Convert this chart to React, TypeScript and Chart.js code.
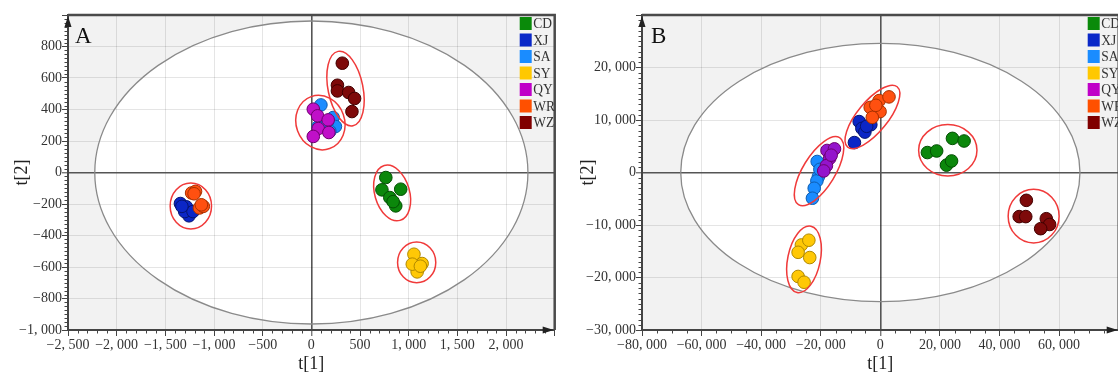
import React, { useEffect, useRef } from 'react';
import { Chart, registerables } from 'chart.js';

Chart.register(...registerables);

type Pt = [number, number];
type Ell = { cx: number; cy: number; ax: number; ay: number; ratio: number };

const FONT = "'Liberation Serif', 'Times New Roman', serif";

// ---------- groups ----------
const groupNames = ['CD', 'XJ', 'SA', 'SY', 'QY', 'WR', 'WZ'];
const legendColors = ['#0a8a0a', '#0a28c8', '#1a8cff', '#ffc800', '#c000c8', '#ff5000', '#800000'];
const fillsA = ['#0b870b', '#0b26c6', '#1a8cff', '#ffc806', '#c010c8', '#ff5010', '#7e0a0a'];
const fillsB = ['#0b870b', '#0b26c6', '#1a8cff', '#ffc806', '#9414cc', '#ff5010', '#7e0a0a'];
const borders = ['#045004', '#061470', '#0d5cb0', '#b08800', '#6e006e', '#a83000', '#420000'];

// ---------- panel A scores (t[1], t[2]) ----------
const aCD: Pt[] = [[765, -32], [725, -110], [918, -106], [806, -159], [867, -212], [840, -185]];
const aXJ: Pt[] = [[-1345, -197], [-1284, -218], [-1257, -275], [-1301, -248], [-1216, -248], [-1330, -215]];
const aSA: Pt[] = [[98, 429], [224, 349], [247, 292], [72, 292], [165, 322], [190, 262]];
const aSY: Pt[] = [[1054, -519], [1138, -578], [1105, -603], [1087, -631], [1037, -582], [1120, -595]];
const aQY: Pt[] = [[20, 402], [64, 360], [173, 334], [71, 279], [180, 254], [20, 229]];
const aWR: Pt[] = [[-1230, -130], [-1190, -120], [-1150, -225], [-1110, -215], [-1205, -135], [-1130, -205]];
const aWZ: Pt[] = [[318, 694], [268, 554], [268, 518], [383, 508], [444, 470], [417, 387]];

// ---------- panel B scores ----------
const bCD: Pt[] = [[15800, 3800], [18900, 4100], [24200, 6500], [28100, 6000], [22200, 1400], [23900, 2200]];
const bXJ: Pt[] = [[-7100, 9700], [-6200, 8400], [-5200, 7700], [-3200, 9100], [-8700, 5700], [-4600, 8800]];
const bSA: Pt[] = [[-21200, 2100], [-20800, -800], [-21300, -1600], [-22200, -3000], [-22800, -4900], [-20300, 600]];
const bSY: Pt[] = [[-26500, -13800], [-24000, -12900], [-27600, -15200], [-23700, -16200], [-27600, -19800], [-25600, -20900]];
const bQY: Pt[] = [[-17900, 4200], [-15400, 4500], [-17000, 2700], [-18100, 1300], [-19000, 300], [-16500, 3300]];
const bWR: Pt[] = [[-3400, 12400], [-400, 13700], [2900, 14400], [-100, 11600], [-2700, 10500], [-1500, 12800]];
const bWZ: Pt[] = [[49000, -5300], [46600, -8400], [48800, -8400], [55700, -8800], [56800, -9900], [53800, -10700]];

// ---------- axes ----------
const aXAxis = { min: -2500, max: 2500, step: 500, minor: 100 };
const aYAxis = { min: -1000, max: 1000, step: 200, minor: 25 };
const bXAxis = { min: -80000, max: 80000, step: 20000, minor: 5000 };
const bYAxis = { min: -30000, max: 30000, step: 10000, minor: 1000 };

// Hotelling T2 ellipse semi-axes (data units)
const aHotelling: Pt = [2225, 962];
const bHotelling: Pt = [67000, 24600];

// group enclosures: centre, half major-axis vector (data units), minor/major ratio
const aGroupEllipses: Ell[] = [
  { cx: -1238, cy: -212, ax: 0, ay: 146, ratio: 0.9 },
  { cx: 93, cy: 317, ax: 95, ay: -165, ratio: 0.88 },
  { cx: 351, cy: 533, ax: 77, ay: -236, ratio: 0.46 },
  { cx: 830, cy: -130, ax: 81, ay: -174, ratio: 0.61 },
  { cx: 1082, cy: -571, ax: 0, ay: 129, ratio: 0.94 },
];
const bGroupEllipses: Ell[] = [
  { cx: -20580, cy: 250, ax: 6900, ay: 6380, ratio: 0.41 },
  { cx: -2660, cy: 10590, ax: 8300, ay: 5745, ratio: 0.39 },
  { cx: -25620, cy: -16540, ax: 2320, ay: 6320, ratio: 0.48 },
  { cx: 22640, cy: 4230, ax: 9790, ay: 0, ratio: 0.88 },
  { cx: 51450, cy: -8310, ax: 0, ay: 5110, ratio: 0.95 },
];

function fmt(v: number): string {
  const a = Math.abs(v);
  const s = a >= 1000 ? Math.floor(a / 1000) + ', ' + String(a % 1000).padStart(3, '0') : String(a);
  return (v < 0 ? '\u2212' : '') + s;
}

interface AxisCfg { min: number; max: number; step: number; minor: number }
interface PanelCfg {
  letter: string;
  scores: Pt[][];
  fills: string[];
  x: AxisCfg;
  y: AxisCfg;
  hotelling: Pt;
  ellipses: Ell[];
  yAxisWidth: number;
  yTitlePad: number;
  legendOffset: number;
  letterDx: number;
}

function buildChart(canvas: HTMLCanvasElement, cfg: PanelCfg) {
  const decor = {
    id: 'pcaDecor',
    beforeDraw(chart: any) {
      const { ctx, chartArea: ca } = chart;
      const xs = chart.scales.x, ys = chart.scales.y;
      ctx.save();
      ctx.fillStyle = '#f2f2f2';
      ctx.fillRect(ca.left, ca.top, ca.right - ca.left, ca.bottom - ca.top);
      ctx.beginPath();
      ctx.rect(ca.left, ca.top, ca.right - ca.left, ca.bottom - ca.top);
      ctx.clip();
      const cx = xs.getPixelForValue(0), cy = ys.getPixelForValue(0);
      const rx = Math.abs(xs.getPixelForValue(cfg.hotelling[0]) - cx);
      const ry = Math.abs(ys.getPixelForValue(cfg.hotelling[1]) - cy);
      ctx.beginPath();
      ctx.ellipse(cx, cy, rx, ry, 0, 0, Math.PI * 2);
      ctx.fillStyle = '#ffffff';
      ctx.fill();
      ctx.restore();
    },
    beforeDatasetsDraw(chart: any) {
      const { ctx, chartArea: ca } = chart;
      const xs = chart.scales.x, ys = chart.scales.y;
      ctx.save();
      ctx.beginPath();
      ctx.rect(ca.left, ca.top, ca.right - ca.left, ca.bottom - ca.top);
      ctx.clip();
      const cx = xs.getPixelForValue(0), cy = ys.getPixelForValue(0);
      const rx = Math.abs(xs.getPixelForValue(cfg.hotelling[0]) - cx);
      const ry = Math.abs(ys.getPixelForValue(cfg.hotelling[1]) - cy);
      ctx.beginPath();
      ctx.ellipse(cx, cy, rx, ry, 0, 0, Math.PI * 2);
      ctx.strokeStyle = '#8a8a8a';
      ctx.lineWidth = 1.3;
      ctx.stroke();
      ctx.restore();
    },
    afterDatasetsDraw(chart: any) {
      const { ctx } = chart;
      const xs = chart.scales.x, ys = chart.scales.y;
      ctx.save();
      ctx.strokeStyle = '#f03a3a';
      ctx.lineWidth = 1.5;
      for (const e of cfg.ellipses) {
        const cx = xs.getPixelForValue(e.cx), cy = ys.getPixelForValue(e.cy);
        const ex = xs.getPixelForValue(e.cx + e.ax) - cx;
        const ey = ys.getPixelForValue(e.cy + e.ay) - cy;
        const a = Math.hypot(ex, ey);
        const rot = Math.atan2(ey, ex);
        ctx.beginPath();
        ctx.ellipse(cx, cy, a, a * e.ratio, rot, 0, Math.PI * 2);
        ctx.stroke();
      }
      ctx.restore();
    },
    afterDraw(chart: any) {
      const { ctx, chartArea: ca } = chart;
      const xs = chart.scales.x, ys = chart.scales.y;
      ctx.save();
      // top and right frame
      ctx.strokeStyle = '#4a4a4a';
      ctx.lineWidth = 2.5;
      ctx.beginPath();
      ctx.moveTo(ca.left, ca.top);
      ctx.lineTo(ca.right, ca.top);
      ctx.lineTo(ca.right, ca.bottom);
      ctx.stroke();
      // minor ticks
      ctx.strokeStyle = '#444';
      ctx.lineWidth = 1;
      ctx.beginPath();
      for (let v = cfg.y.min; v <= cfg.y.max + 1e-9; v += cfg.y.minor) {
        const r = v / cfg.y.step;
        if (Math.abs(r - Math.round(r)) < 1e-6) continue;
        const py = Math.round(ys.getPixelForValue(v)) + 0.5;
        ctx.moveTo(ca.left - 3.5, py);
        ctx.lineTo(ca.left, py);
      }
      for (let v = cfg.x.min; v <= cfg.x.max + 1e-9; v += cfg.x.minor) {
        const r = v / cfg.x.step;
        if (Math.abs(r - Math.round(r)) < 1e-6) continue;
        const px = Math.round(xs.getPixelForValue(v)) + 0.5;
        ctx.moveTo(px, ca.bottom);
        ctx.lineTo(px, ca.bottom + 3.5);
      }
      ctx.stroke();
      // arrows
      ctx.fillStyle = '#222';
      ctx.beginPath();
      ctx.moveTo(ca.left, ca.top + 1);
      ctx.lineTo(ca.left - 3.5, ca.top + 12);
      ctx.lineTo(ca.left + 3.5, ca.top + 12);
      ctx.closePath();
      ctx.fill();
      ctx.beginPath();
      ctx.moveTo(ca.right - 1, ca.bottom);
      ctx.lineTo(ca.right - 12, ca.bottom - 3.5);
      ctx.lineTo(ca.right - 12, ca.bottom + 3.5);
      ctx.closePath();
      ctx.fill();
      // panel letter
      ctx.fillStyle = '#111';
      ctx.font = `23px ${FONT}`;
      ctx.textBaseline = 'alphabetic';
      ctx.textAlign = 'left';
      ctx.fillText(cfg.letter, ca.left + cfg.letterDx, ca.top + 28);
      // legend
      ctx.font = `15px ${FONT}`;
      ctx.textBaseline = 'middle';
      groupNames.forEach((name, i) => {
        const yc = ca.top + 8.5 + i * 16.5;
        const sx = ca.right - cfg.legendOffset;
        ctx.fillStyle = legendColors[i];
        ctx.fillRect(sx, yc - 6.5, 12, 13);
        ctx.save();
        ctx.translate(sx + 13.5, yc + 1);
        ctx.scale(0.9, 1);
        ctx.fillStyle = '#333';
        ctx.fillText(name, 0, 0);
        ctx.restore();
      });
      ctx.restore();
    },
  };

  const gridColor = (c: any) => (c.tick && c.tick.value === 0 ? '#555' : 'rgba(0,0,0,0.1)');
  const gridWidth = (c: any) => (c.tick && c.tick.value === 0 ? 1.6 : 1);

  return new Chart(canvas, {
    type: 'scatter',
    data: {
      datasets: cfg.scores.map((pts, i) => ({
        label: groupNames[i],
        data: pts.map(([x, y]) => ({ x, y })),
        backgroundColor: cfg.fills[i],
        borderColor: borders[i],
        borderWidth: 1,
        pointRadius: 6.3,
        pointHoverRadius: 6.3,
        // later groups are painted above earlier ones
        order: groupNames.length - i,
      })),
    },
    options: {
      animation: false,
      responsive: false,
      events: [],
      layout: { padding: { left: 0, top: 15, right: 2, bottom: 0 } },
      plugins: { legend: { display: false }, tooltip: { enabled: false } },
      scales: {
        x: {
          type: 'linear',
          position: 'bottom',
          min: cfg.x.min,
          max: cfg.x.max,
          afterFit: (s: any) => { s.height = 43; },
          ticks: {
            stepSize: cfg.x.step,
            autoSkip: false,
            maxRotation: 0,
            padding: 1,
            color: '#333',
            font: { family: FONT, size: 14 },
            callback: (v: any) => (v === cfg.x.max ? '' : fmt(Number(v))),
          },
          grid: { color: gridColor, lineWidth: gridWidth, tickLength: 6, tickColor: '#444', tickWidth: 1 },
          border: { display: true, color: '#444', width: 2 },
          title: {
            display: true,
            text: 't[1]',
            color: '#222',
            font: { family: FONT, size: 18, lineHeight: 1 },
            padding: { top: 0, bottom: 0 },
          },
        },
        y: {
          type: 'linear',
          position: 'left',
          min: cfg.y.min,
          max: cfg.y.max,
          afterFit: (s: any) => { s.width = cfg.yAxisWidth; },
          ticks: {
            stepSize: cfg.y.step,
            autoSkip: false,
            padding: 0,
            color: '#333',
            font: { family: FONT, size: 14 },
            callback: (v: any) => (v === cfg.y.max ? '' : fmt(Number(v))),
          },
          grid: { color: gridColor, lineWidth: gridWidth, tickLength: 6, tickColor: '#444', tickWidth: 1 },
          border: { display: true, color: '#444', width: 2 },
          title: {
            display: true,
            text: 't[2]',
            color: '#222',
            font: { family: FONT, size: 18, lineHeight: 1 },
            padding: { top: cfg.yTitlePad, bottom: 0 },
          },
        },
      },
    },
    plugins: [decor],
  } as any);
}

const panelA: PanelCfg = {
  letter: 'A',
  scores: [aCD, aXJ, aSA, aSY, aQY, aWR, aWZ],
  fills: fillsA,
  x: aXAxis,
  y: aYAxis,
  hotelling: aHotelling,
  ellipses: aGroupEllipses,
  yAxisWidth: 68,
  yTitlePad: 13,
  legendOffset: 35,
  letterDx: 7,
};

const panelB: PanelCfg = {
  letter: 'B',
  scores: [bCD, bXJ, bSA, bSY, bQY, bWR, bWZ],
  fills: fillsB,
  x: bXAxis,
  y: bYAxis,
  hotelling: bHotelling,
  ellipses: bGroupEllipses,
  yAxisWidth: 80,
  yTitlePad: 17,
  legendOffset: 31,
  letterDx: 9,
};

function Panel({ cfg, left, width }: { cfg: PanelCfg; left: number; width: number }) {
  const ref = useRef<HTMLCanvasElement>(null);
  useEffect(() => {
    if (!ref.current) return;
    const chart = buildChart(ref.current, cfg);
    return () => chart.destroy();
  }, [cfg]);
  return (
    <div style={{ position: 'absolute', left, top: 0, width, height: 373 }}>
      <canvas ref={ref} width={width} height={373} style={{ width, height: 373, display: 'block' }} />
    </div>
  );
}

export default function App() {
  return (
    <div
      style={{
        position: 'absolute',
        left: 0,
        top: 0,
        width: 1118,
        height: 373,
        overflow: 'hidden',
        background: '#ffffff',
      }}
    >
      <Panel cfg={panelA} left={0} width={562} />
      <Panel cfg={panelB} left={562} width={564} />
    </div>
  );
}
